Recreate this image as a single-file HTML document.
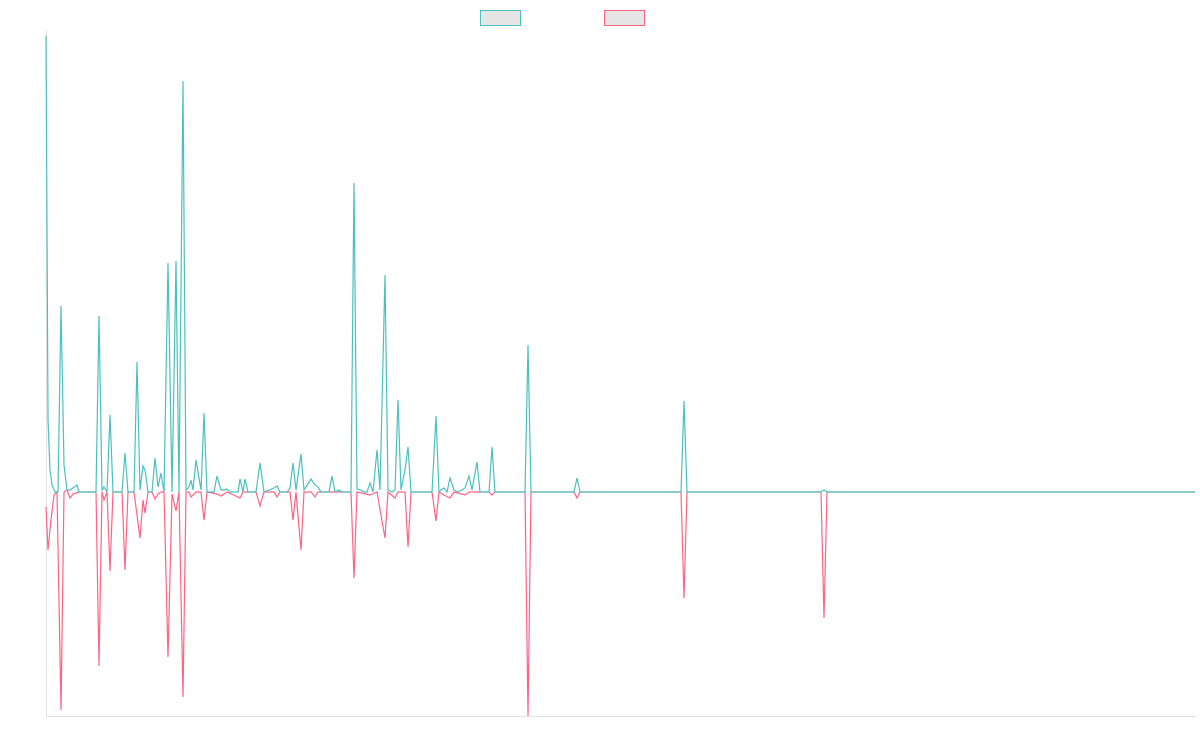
<!DOCTYPE html>
<html><head><meta charset="utf-8"><style>html,body{margin:0;padding:0;background:#fff;width:1200px;height:750px;overflow:hidden}</style></head>
<body>
<svg width="1200" height="750" xmlns="http://www.w3.org/2000/svg">
<rect x="480.5" y="10.5" width="40" height="15" fill="#e5e5e5" stroke="#4bc0c0" stroke-width="1"/>
<rect x="604.5" y="10.5" width="40" height="15" fill="#e5e5e5" stroke="#ff6384" stroke-width="1"/>
<line x1="46.5" y1="30" x2="46.5" y2="716" stroke="#e0e0e0"/>
<line x1="46" y1="716.5" x2="1195" y2="716.5" stroke="#e0e0e0"/>
<polyline fill="none" stroke="#ff6384" stroke-width="1.2" points="46,507 48,550 51,520 54,495 57,492 61,710 64,492 67,490 70,498 73,494 79,492 96,492 99,666 102,492 104,500 107,492 110,571 113,492 122,492 125,570 128,492 134,492 140,538 143,500 145,513 148,492 152,492 155,499 158,494 161,492 164,492 168,657 172,494 176,511 179,492 183,697 186,492 189,492 191,497 196,492 201,492 204,520 207,492 217,494 221,496 227,492 240,498 243,492 256,492 260,506 264,492 274,492 277,497 280,492 290,492 293,520 296,492 301,550 304,492 311,492 315,497 318,492 351,492 354,578 357,492 370,495 377,492 385,538 388,492 395,498 398,492 405,492 408,547 411,492 432,492 436,521 439,492 444,495 450,498 454,492 465,495 469,492 477,492 480,492 489,492 492,495 495,492 525,492 528,716 531,492 574,492 577,498 580,492 681,492 684,598 687,492 821,492 824,618 827,492 1195,492"/>
<polyline fill="none" stroke="#4bc0c0" stroke-width="1.2" points="46,36 48,420 50,470 52,485 55,492 58,492 61,306 64,465 67,490 70,490 73,488 77,485 79,492 96,492 99,316 102,490 104,487 107,492 110,415 113,492 122,492 125,453 128,492 134,492 137,362 140,490 143,466 145,470 148,492 152,492 155,458 158,487 161,473 164,492 168,263 172,492 176,261 179,492 183,81 186,490 189,487 191,480 193,490 196,460 201,490 204,413 207,492 214,492 217,476 221,490 225,490 227,489 230,492 238,492 240,479 243,492 245,479 248,492 256,492 260,463 264,492 274,488 277,486 280,492 287,492 290,488 293,463 296,490 301,454 304,490 311,479 315,485 318,487 321,492 329,492 332,476 335,492 339,490 342,492 351,492 354,183 357,489 361,490 364,492 367,492 370,483 373,492 377,450 380,490 385,275 388,490 392,492 395,490 398,400 401,490 405,470 408,447 411,492 432,492 436,416 439,492 441,490 444,488 447,492 450,478 454,490 458,492 462,490 465,488 469,476 472,490 477,462 480,492 489,492 492,447 495,492 525,492 528,345 531,492 574,492 577,478 580,492 681,492 684,401 687,492 821,492 824,490 827,492 1195,492"/>
</svg>
</body></html>
